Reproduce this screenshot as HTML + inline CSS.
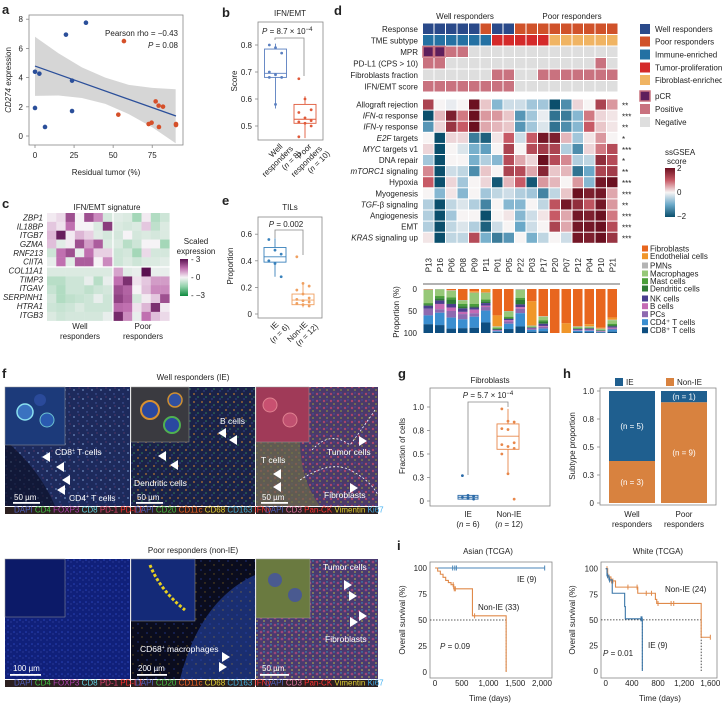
<!DOCTYPE html>
<html><head><meta charset="utf-8"><style>
html,body{margin:0;padding:0;background:#fff}
svg{display:block;font-family:"Liberation Sans",Arial,sans-serif;fill:#222}
text{font-size:8px}
.pl{font-weight:bold;font-size:13px}
.ax{stroke:#888;stroke-width:0.8;fill:none}
.wt{fill:#fff;font-size:8.5px}
</style></head><body>
<svg id="fig" width="722" height="705" viewBox="0 0 722 705" xmlns="http://www.w3.org/2000/svg">
<defs>
<pattern id="dots1" width="9" height="9" patternUnits="userSpaceOnUse"><circle cx="2" cy="3" r="0.9" fill="#8fb4e8"/><circle cx="6" cy="7" r="0.7" fill="#5c78c8"/><circle cx="7" cy="1" r="0.5" fill="#d85a7a"/></pattern>
<pattern id="dots2" width="8" height="8" patternUnits="userSpaceOnUse"><circle cx="2" cy="2" r="0.9" fill="#e0902a"/><circle cx="6" cy="5" r="0.8" fill="#3e9e5a"/><circle cx="4" cy="7" r="0.6" fill="#4a6ad0"/></pattern>
<pattern id="dots3" width="7" height="7" patternUnits="userSpaceOnUse"><circle cx="2" cy="2" r="1.2" fill="#c04868"/><circle cx="5" cy="5" r="1" fill="#8a8a40"/><circle cx="5" cy="1" r="0.6" fill="#4a5ad0"/></pattern>
<pattern id="dots4" width="6" height="6" patternUnits="userSpaceOnUse"><circle cx="2" cy="2" r="0.8" fill="#3a5ae0"/><circle cx="5" cy="4" r="0.5" fill="#7a8af0"/></pattern>
<pattern id="dots5" width="9" height="9" patternUnits="userSpaceOnUse"><circle cx="3" cy="3" r="0.9" fill="#2a4ab8"/><circle cx="7" cy="7" r="0.7" fill="#c89a20"/></pattern>
<pattern id="dots6" width="7" height="7" patternUnits="userSpaceOnUse"><circle cx="2" cy="2" r="1.3" fill="#b04a78"/><circle cx="5" cy="5" r="1" fill="#a0a050"/><circle cx="5" cy="1" r="0.7" fill="#30b8d8"/></pattern>
</defs>

<text class="pl" x="2" y="14">a</text>
<text class="pl" x="222" y="17">b</text>
<text class="pl" x="2" y="208">c</text>
<text class="pl" x="334" y="15">d</text>
<text class="pl" x="222" y="205">e</text>
<text class="pl" x="2" y="378">f</text>
<text class="pl" x="398" y="378">g</text>
<text class="pl" x="563" y="378">h</text>
<text class="pl" x="397" y="550">i</text>

<g id="pa">
<rect x="29" y="15" width="154" height="130" class="ax"/>
<text x="178" y="36" text-anchor="end" font-size="9">Pearson rho = −0.43</text>
<text x="178" y="48" text-anchor="end" font-size="9"><tspan font-style="italic">P</tspan> = 0.08</text>
<text x="106" y="175" text-anchor="middle" font-size="9">Residual tumor (%)</text>
<text transform="translate(11,80) rotate(-90)" text-anchor="middle" font-size="9"><tspan font-style="italic">CD274</tspan> expression</text>
</g>

<g>
<text x="290" y="16" text-anchor="middle">IFN/EMT</text>
<rect x="258" y="22" width="65" height="118" class="ax"/>
<text x="262" y="34" font-size="8"><tspan font-style="italic">P</tspan> = 8.7 × 10<tspan dy="-3" font-size="6">−4</tspan></text>
<path d="M275,40 V38 H304 V76" class="ax"/>
<text transform="translate(237,81) rotate(-90)" text-anchor="middle" font-size="9">Score</text>
<g transform="translate(283,147) rotate(-45)" font-size="8"><text x="0" y="0" text-anchor="end">Well</text><text x="6" y="9" text-anchor="end">responders</text><text x="8" y="18" text-anchor="end">(<tspan font-style="italic">n</tspan> = 8)</text></g>
<g transform="translate(312,147) rotate(-45)" font-size="8"><text x="0" y="0" text-anchor="end">Poor</text><text x="6" y="9" text-anchor="end">responders</text><text x="8" y="18" text-anchor="end">(<tspan font-style="italic">n</tspan> = 10)</text></g>
</g>

<g>
<text x="290" y="210" text-anchor="middle">TILs</text>
<rect x="258" y="217" width="64" height="101" class="ax"/>
<text x="286" y="227" text-anchor="middle"><tspan font-style="italic">P</tspan> = 0.002</text>
<path d="M275,238 V230 H303 V255" class="ax"/>
<text transform="translate(233,266) rotate(-90)" text-anchor="middle" font-size="9">Proportion</text>
<g transform="translate(279,325) rotate(-45)" font-size="8"><text x="0" y="0" text-anchor="end">IE</text><text x="6" y="9" text-anchor="end">(<tspan font-style="italic">n</tspan> = 6)</text></g>
<g transform="translate(308,325) rotate(-45)" font-size="8"><text x="0" y="0" text-anchor="end">Non-IE</text><text x="6" y="9" text-anchor="end">(<tspan font-style="italic">n</tspan> = 12)</text></g>
</g>

<g>
<text x="107" y="210" text-anchor="middle" font-size="9">IFN/EMT signature</text>
<text x="80" y="329" text-anchor="middle">Well</text>
<text x="80" y="339" text-anchor="middle">responders</text>
<text x="143" y="329" text-anchor="middle">Poor</text>
<text x="143" y="339" text-anchor="middle">responders</text>
<text x="196" y="244" text-anchor="middle" font-size="7.5">Scaled</text>
<text x="196" y="254" text-anchor="middle" font-size="7.5">expression</text>
<defs><linearGradient id="gc" x1="0" y1="0" x2="0" y2="1"><stop offset="0" stop-color="#5a1050"/><stop offset="0.25" stop-color="#c070b0"/><stop offset="0.5" stop-color="#f6f3f6"/><stop offset="0.75" stop-color="#8fd0a8"/><stop offset="1" stop-color="#0e8a3e"/></linearGradient></defs>
<rect x="180" y="259" width="8" height="37" fill="url(#gc)"/>
<text x="191" y="262" font-size="7">- 3</text>
<text x="191" y="280" font-size="7">- 0</text>
<text x="191" y="298" font-size="7">- −3</text>
</g>

<g>
<text x="465" y="19" text-anchor="middle" font-size="9">Well responders</text>
<text x="572" y="19" text-anchor="middle" font-size="9">Poor responders</text>
<line x1="423" y1="284" x2="620" y2="284" stroke="#333" stroke-width="0.8"/>
<text transform="translate(399,312) rotate(-90)" text-anchor="middle" font-size="8">Proportion (%)</text>
<text x="665" y="155" font-size="7">ssGSEA</text>
<text x="667" y="164" font-size="7">score</text>
<defs><linearGradient id="gd" x1="0" y1="0" x2="0" y2="1"><stop offset="0" stop-color="#6b1020"/><stop offset="0.25" stop-color="#c75a66"/><stop offset="0.5" stop-color="#f7f4f4"/><stop offset="0.75" stop-color="#6aa8c8"/><stop offset="1" stop-color="#0b4f6c"/></linearGradient></defs>
<rect x="665" y="168" width="10" height="49" fill="url(#gd)"/>
<text x="677" y="171" font-size="7">2</text>
<text x="677" y="195" font-size="7">0</text>
<text x="677" y="219" font-size="7">−2</text>
</g>

<g>
<text x="193" y="380" text-anchor="middle" font-size="9">Well responders (IE)</text>
<text x="193" y="553" text-anchor="middle" font-size="9">Poor responders (non-IE)</text>
<g><rect x="5" y="387" width="125" height="119" fill="#1d2a5c"/><rect x="5" y="387" width="125" height="119" fill="url(#dots1)" opacity="0.7"/><path d="M5,440 Q40,470 55,506 L5,506Z" fill="#0a0e20" opacity="0.6"/><rect x="5" y="387" width="60" height="58" fill="#1c3a7a" stroke="#999" stroke-width="0.5"/><circle cx="25" cy="412" r="8" fill="#3a72c0" stroke="#8ae0f0" stroke-width="1.5"/><circle cx="47" cy="420" r="7" fill="#2a5ab0" stroke="#6ac0d0" stroke-width="1"/><circle cx="40" cy="400" r="6" fill="#2a4a9a"/></g>
<g><rect x="131" y="387" width="124" height="119" fill="#1a2248"/><rect x="131" y="387" width="124" height="119" fill="url(#dots2)" opacity="0.8"/><rect x="131" y="387" width="58" height="55" fill="#3a3a40" stroke="#999" stroke-width="0.5"/><circle cx="150" cy="410" r="9" fill="#2a48a0" stroke="#d89030" stroke-width="2"/><circle cx="172" cy="425" r="8" fill="#2a48a0" stroke="#50b050" stroke-width="2"/><circle cx="175" cy="400" r="7" fill="#3050a0" stroke="#d09030" stroke-width="1.5"/></g>
<g><rect x="256" y="387" width="122" height="119" fill="#4a3a6a"/><rect x="256" y="387" width="122" height="119" fill="url(#dots3)" opacity="0.8"/><path d="M256,440 L300,440 Q300,480 320,506 L256,506Z" fill="#6a6a48" opacity="0.7"/><rect x="256" y="387" width="53" height="55" fill="#a03a58" stroke="#999" stroke-width="0.5"/><circle cx="270" cy="405" r="7" fill="#c85070" stroke="#e08090"/><circle cx="290" cy="420" r="7" fill="#c05070" stroke="#e08090"/><path d="M312,450 Q330,430 350,445 Q365,425 375,410" stroke="#fff" stroke-dasharray="2,2" fill="none" stroke-width="0.8"/><path d="M300,480 Q330,460 350,470 Q370,480 378,495" stroke="#fff" stroke-dasharray="2,2" fill="none" stroke-width="0.8"/></g>
<g><rect x="5" y="559" width="125" height="120" fill="#10207a"/><rect x="5" y="559" width="125" height="120" fill="url(#dots4)" opacity="0.6"/><rect x="5" y="559" width="60" height="58" fill="#0c1a68" stroke="#999" stroke-width="0.5"/></g>
<g><rect x="131" y="559" width="124" height="120" fill="#0a0c1e"/><path d="M180,679 Q200,600 255,575 L255,679Z" fill="#1a2e70"/><rect x="131" y="559" width="124" height="120" fill="url(#dots5)" opacity="0.5"/><rect x="131" y="559" width="64" height="62" fill="#142a78" stroke="#999" stroke-width="0.5"/><path d="M150,565 Q160,590 185,610" stroke="#e8d020" stroke-width="3" fill="none" stroke-dasharray="3,2"/></g>
<g><rect x="256" y="559" width="122" height="120" fill="#4a3a70"/><rect x="256" y="559" width="122" height="120" fill="url(#dots6)" opacity="0.8"/><rect x="256" y="559" width="54" height="59" fill="#6a7a40" stroke="#999" stroke-width="0.5"/><circle cx="275" cy="580" r="7" fill="#4a5a90"/><circle cx="295" cy="595" r="7" fill="#4a5a90"/></g>
<g font-size="5.5">
<rect x="5" y="507" width="125" height="7" fill="#2c2020"/><rect x="131" y="507" width="124" height="7" fill="#2c2020"/><rect x="256" y="507" width="122" height="7" fill="#2c2020"/>
<rect x="5" y="680" width="125" height="7" fill="#2c2020"/><rect x="131" y="680" width="124" height="7" fill="#2c2020"/><rect x="256" y="680" width="122" height="7" fill="#2c2020"/>
<text x="14" y="512.5"><tspan fill="#5060c0">DAPI </tspan><tspan fill="#40c040">CD4 </tspan><tspan fill="#b040b0">FOXP3 </tspan><tspan fill="#60d0e0">CD8 </tspan><tspan fill="#e04070">PD-1 </tspan><tspan fill="#ff3030">PD-L1</tspan></text>
<text x="135" y="512.5"><tspan fill="#5060c0">DAPI </tspan><tspan fill="#40c040">CD20 </tspan><tspan fill="#f06020">CD11c </tspan><tspan fill="#e0d030">CD68 </tspan><tspan fill="#40b0e0">CD163 </tspan><tspan fill="#ff3030">IFNγ</tspan></text>
<text x="265" y="512.5"><tspan fill="#5060c0">DAPI </tspan><tspan fill="#e070a0">CD3 </tspan><tspan fill="#ff3030">Pan-CK </tspan><tspan fill="#e0d030">Vimentin </tspan><tspan fill="#40b0f0">Ki67</tspan></text>
<text x="14" y="685.5"><tspan fill="#5060c0">DAPI </tspan><tspan fill="#40c040">CD4 </tspan><tspan fill="#b040b0">FOXP3 </tspan><tspan fill="#60d0e0">CD8 </tspan><tspan fill="#e04070">PD-1 </tspan><tspan fill="#ff3030">PD-L1</tspan></text>
<text x="135" y="685.5"><tspan fill="#5060c0">DAPI </tspan><tspan fill="#40c040">CD20 </tspan><tspan fill="#f06020">CD11c </tspan><tspan fill="#e0d030">CD68 </tspan><tspan fill="#40b0e0">CD163 </tspan><tspan fill="#ff3030">IFNγ</tspan></text>
<text x="265" y="685.5"><tspan fill="#5060c0">DAPI </tspan><tspan fill="#e070a0">CD3 </tspan><tspan fill="#ff3030">Pan-CK </tspan><tspan fill="#e0d030">Vimentin </tspan><tspan fill="#40b0f0">Ki67</tspan></text>
</g>
<g>
<text class="wt" x="55" y="455">CD8<tspan dy="-3" font-size="5">+</tspan><tspan dy="3"> T cells</tspan></text>
<text class="wt" x="69" y="501">CD4<tspan dy="-3" font-size="5">+</tspan><tspan dy="3"> T cells</tspan></text>
<text class="wt" x="220" y="424">B cells</text>
<text class="wt" x="134" y="486">Dendritic cells</text>
<text class="wt" x="261" y="463">T cells</text>
<text class="wt" x="327" y="455">Tumor cells</text>
<text class="wt" x="324" y="498">Fibroblasts</text>
<text class="wt" x="323" y="570">Tumor cells</text>
<text class="wt" x="325" y="642">Fibroblasts</text>
<text class="wt" x="140" y="652">CD68<tspan dy="-3" font-size="5">+</tspan><tspan dy="3"> macrophages</tspan></text>
<g fill="#fff"><path d="M42,457 l8,-5 v10z"/><path d="M56,467 l8,-5 v10z"/><path d="M62,480 l8,-5 v10z"/><path d="M57,490 l8,-5 v10z"/><path d="M218,433 l8,-5 v10z"/><path d="M229,440 l8,-5 v10z"/><path d="M158,456 l8,-5 v10z"/><path d="M170,465 l8,-5 v10z"/><path d="M273,474 l8,-5 v10z"/><path d="M273,487 l8,-5 v10z"/><path d="M367,441 l-8,-5 v10z"/><path d="M358,488 l-8,-5 v10z"/><path d="M352,585 l-8,-5 v10z"/><path d="M357,596 l-8,-5 v10z"/><path d="M367,616 l-8,-5 v10z"/><path d="M358,622 l-8,-5 v10z"/><path d="M230,657 l-8,-5 v10z"/><path d="M227,667 l-8,-5 v10z"/></g>
<g fill="#fff" font-size="7.5"><text x="14" y="500">50 µm</text><rect x="13" y="502" width="27" height="1.8"/><text x="137" y="500">50 µm</text><rect x="136" y="502" width="27" height="1.8"/><text x="262" y="500">50 µm</text><rect x="261" y="502" width="27" height="1.8"/>
<text x="13" y="671">100 µm</text><rect x="10" y="674" width="31" height="1.8"/><text x="138" y="671">200 µm</text><rect x="137" y="674" width="30" height="1.8"/><text x="262" y="671">50 µm</text><rect x="260" y="674" width="29" height="1.8"/></g>
</g>
</g>

<g>
<text x="490" y="383" text-anchor="middle">Fibroblasts</text>
<rect x="430" y="388" width="120" height="118" class="ax"/>
<text x="488" y="398" text-anchor="middle"><tspan font-style="italic">P</tspan> = 5.7 × 10<tspan dy="-3" font-size="6">−4</tspan></text>
<path d="M468,475 V402 H508 V407" class="ax"/>
<text transform="translate(405,446) rotate(-90)" text-anchor="middle" font-size="9">Fraction of cells</text>
<text x="468" y="517" text-anchor="middle">IE</text>
<text x="468" y="527" text-anchor="middle">(<tspan font-style="italic">n</tspan> = 6)</text>
<text x="509" y="517" text-anchor="middle">Non-IE</text>
<text x="509" y="527" text-anchor="middle">(<tspan font-style="italic">n</tspan> = 12)</text>
<text x="488" y="554" text-anchor="middle">Asian (TCGA)</text>
</g>

<g>
<rect x="600" y="388" width="116" height="117" class="ax"/>
<rect x="615" y="378" width="8" height="8" fill="#1f5f8f"/>
<text x="626" y="385">IE</text>
<rect x="666" y="378" width="8" height="8" fill="#d8823f"/>
<text x="677" y="385">Non-IE</text>
<text transform="translate(575,446) rotate(-90)" text-anchor="middle" font-size="8.5">Subtype proportion</text>
<text x="632" y="517" text-anchor="middle">Well</text>
<text x="632" y="527" text-anchor="middle">responders</text>
<text x="684" y="517" text-anchor="middle">Poor</text>
<text x="684" y="527" text-anchor="middle">responders</text>
<text x="658" y="554" text-anchor="middle">White (TCGA)</text>
</g>

<g>
<rect x="430" y="562" width="122" height="116" class="ax"/>
<rect x="601" y="562" width="116" height="116" class="ax"/>
<text transform="translate(405,620) rotate(-90)" text-anchor="middle" font-size="8.5">Overall survival (%)</text>
<text transform="translate(575,620) rotate(-90)" text-anchor="middle" font-size="8.5">Overall survival (%)</text>
<text x="490" y="701" text-anchor="middle" font-size="8.5">Time (days)</text>
<text x="660" y="701" text-anchor="middle" font-size="8.5">Time (days)</text>
<text x="517" y="582">IE (9)</text>
<text x="478" y="610">Non-IE (33)</text>
<text x="440" y="649"><tspan font-style="italic">P</tspan> = 0.09</text>
<text x="665" y="592">Non-IE (24)</text>
<text x="648" y="648">IE (9)</text>
<text x="603" y="656"><tspan font-style="italic">P</tspan> = 0.01</text>
</g>
</svg>
<script>
const NS='http://www.w3.org/2000/svg';
const svg=document.getElementById('fig');
function mk(tag,a,p){const e=document.createElementNS(NS,tag);for(const k in a)e.setAttribute(k,a[k]);(p||svg).appendChild(e);return e;}
function tx(x,y,s,a,p){const e=mk('text',Object.assign({x:x,y:y},a||{}),p);e.textContent=s;return e;}
function lerpColor(stops,v){if(v<=stops[0][0])return stops[0][1];for(let i=1;i<stops.length;i++){if(v<=stops[i][0]){const t=(v-stops[i-1][0])/(stops[i][0]-stops[i-1][0]);const a=stops[i-1][1],b=stops[i][1];const c=[0,1,2].map(k=>Math.round(parseInt(a.substr(1+2*k,2),16)*(1-t)+parseInt(b.substr(1+2*k,2),16)*t));return 'rgb('+c.join(',')+')';}}return stops[stops.length-1][1];}

/* ---------- Panel a data ---------- */
const aBlueX=[0,2.8,0,6.4,19.8,23.7,23.7,32.6];
const aBlueY=[4.4,4.27,1.92,0.62,6.94,3.79,1.71,7.76];
const aRedX=[56.9,53.3,77.2,79.1,81.9,72.7,74.6,79.3,90.2,90.2];
const aRedY=[6.5,1.46,2.37,2.08,2.01,0.82,0.91,0.62,0.82,0.75];
const aFitX=[0,90.2];
const aFitY=[4.79,1.37];
const aBandX=[0,15,30,45,60,75,90];
const aBandLo=[2.75,2.77,2.6,2.2,1.5,0.6,-0.5];
const aBandHi=[6.8,5.67,4.7,4.0,3.5,3.3,3.2];
const aXTicks=[0,25,50,75];
const aYTicks=[0,2,4,6,8];
{
const ax=v=>35+1.563*v, ay=v=>136-14.6*v;
const g=mk('g',{});


const cp=mk('clipPath',{id:'clipa'},g);mk('rect',{x:29,y:15,width:154,height:130},cp);
let d='M'+aBandX.map((x,i)=>ax(x)+','+ay(aBandHi[i])).join(' L');
d+=' L'+aBandX.slice().reverse().map((x,i)=>ax(x)+','+ay(aBandLo[aBandX.length-1-i])).join(' L')+'Z';
const band=mk('path',{d:d,fill:'#d6d6d6','clip-path':'url(#clipa)'},g);


const ln=mk('line',{x1:ax(aFitX[0]),y1:ay(aFitY[0]),x2:ax(aFitX[1]),y2:ay(aFitY[1]),stroke:'#2b4f9a','stroke-width':1.3},g);


aBlueX.forEach((x,i)=>{const c=mk('circle',{cx:ax(x),cy:ay(aBlueY[i]),r:2.3,fill:'#2b4f9a'},g);

});
aRedX.forEach((x,i)=>{const c=mk('circle',{cx:ax(x),cy:ay(aRedY[i]),r:2.3,fill:'#d5502a'},g);

});
aXTicks.forEach(v=>{mk('line',{x1:ax(v),x2:ax(v),y1:145,y2:148,class:'ax'},g);const t=tx(ax(v),158,String(v),{'text-anchor':'middle'},g);

});
aYTicks.forEach(v=>{mk('line',{x1:26,x2:29,y1:ay(v),y2:ay(v),class:'ax'},g);const t=tx(23,ay(v)+3,String(v),{'text-anchor':'end'},g);

});
}

/* ---------- Box plot helper ---------- */
function boxplot(g,cx,w,st,pts,color,fill,ys,name){
const q1=st[0],med=st[1],q3=st[2],lo=st[3],hi=st[4];
const b=mk('g',{},g);


mk('line',{x1:cx,x2:cx,y1:ys(hi),y2:ys(q3),stroke:color,'stroke-width':0.9},b);
mk('line',{x1:cx,x2:cx,y1:ys(q1),y2:ys(lo),stroke:color,'stroke-width':0.9},b);
mk('rect',{x:cx-w/2,y:ys(q3),width:w,height:Math.max(0.5,ys(q1)-ys(q3)),fill:fill,stroke:color,'stroke-width':0.9},b);
mk('line',{x1:cx-w/2,x2:cx+w/2,y1:ys(med),y2:ys(med),stroke:color,'stroke-width':0.9},b);
pts.forEach((p,i)=>{const c=mk('circle',{cx:cx+((i%3)-1)*w*0.28,cy:ys(p),r:1.4,fill:color},b);

});
}

/* ---------- Panel b data ---------- */
const bWell=[0.80,0.79,0.77,0.70,0.69,0.68,0.68,0.58];
const bWellStats=[0.68,0.695,0.785,0.565,0.805];
const bPoor=[0.675,0.60,0.56,0.55,0.53,0.52,0.515,0.51,0.50,0.46];
const bPoorStats=[0.51,0.525,0.58,0.455,0.61];
const bYTicks=[0.5,0.6,0.7,0.8];
{
const ys=v=>45+(0.8-v)*270;
const g=mk('g',{});


boxplot(g,275.5,22,bWellStats,bWell,'#5a7fc0','#fff',ys,'box-well-b');
boxplot(g,305,22,bPoorStats,bPoor,'#e05a3a','#fff',ys,'box-poor-b');
bYTicks.forEach(v=>{mk('line',{x1:255,x2:258,y1:ys(v),y2:ys(v),class:'ax'},g);const t=tx(252,ys(v)+3,v.toFixed(1),{'text-anchor':'end'},g);

});
}

/* ---------- Panel e data ---------- */
const eIE=[0.56,0.48,0.45,0.40,0.38,0.28];
const eIEStats=[0.39,0.43,0.50,0.28,0.57];
const eNon=[0.43,0.23,0.21,0.18,0.15,0.12,0.11,0.10,0.09,0.08,0.07,0.06];
const eNonStats=[0.07,0.105,0.15,0.05,0.23];
const eYTicks=[0,0.2,0.4,0.6];
{
const ys=v=>314-133*v;
const g=mk('g',{});


boxplot(g,275,22,eIEStats,eIE,'#3a82bc','#fff',ys,'box-ie-e');
boxplot(g,303,22,eNonStats,eNon,'#f0a060','#fff',ys,'box-nonie-e');
eYTicks.forEach(v=>{mk('line',{x1:255,x2:258,y1:ys(v),y2:ys(v),class:'ax'},g);const t=tx(252,ys(v)+3,v===0?'0':v.toFixed(1),{'text-anchor':'end'},g);

});
}

/* ---------- Panel g data ---------- */
const gIE=[0.27,0.06,0.05,0.04,0.03,0.02];
const gIEStats=[0.02,0.04,0.06,0.01,0.07];
const gNon=[0.98,0.85,0.84,0.77,0.76,0.62,0.60,0.58,0.56,0.50,0.29,0.02];
const gNonStats=[0.55,0.69,0.82,0.29,0.98];
const gYTicks=[0,0.25,0.5,0.75,1.0];
const gYLabels=['0','0.3','0.5','0.8','1.0'];
{
const ys=v=>501-94*v;
const g=mk('g',{});


boxplot(g,468,20,gIEStats,gIE,'#2a6aa8','#fff',ys,'box-ie-g');
boxplot(g,508,22,gNonStats,gNon,'#e8874a','#fff',ys,'box-nonie-g');
gYTicks.forEach((v,i)=>{mk('line',{x1:427,x2:430,y1:ys(v),y2:ys(v),class:'ax'},g);const t=tx(424,ys(v)+3,gYLabels[i],{'text-anchor':'end'},g);

});
}

/* ---------- Panel h data ---------- */
const hGroups=['Well responders','Poor responders'];
const hIE=[5,1];
const hNonIE=[3,9];
const hYTicks=[0,0.25,0.5,0.75,1.0];
const hYLabels=['0','0.3','0.5','0.8','1.0'];
{
const ys=v=>503-112*v;
const xs=[609,661], w=46;
const g=mk('g',{});


hGroups.forEach((nm,i)=>{
const tot=hIE[i]+hNonIE[i], pn=hNonIE[i]/tot;
const r1=mk('rect',{x:xs[i],y:ys(pn),width:w,height:ys(0)-ys(pn),fill:'#d8823f'},g);


const r2=mk('rect',{x:xs[i],y:ys(1),width:w,height:ys(pn)-ys(1),fill:'#1f5f8f'},g);


const t1=tx(xs[i]+w/2,(ys(pn)+ys(0))/2+3,'(n = '+hNonIE[i]+')',{'text-anchor':'middle',fill:'#fff'},g);


const t2=tx(xs[i]+w/2,(ys(pn)+ys(1))/2+3,'(n = '+hIE[i]+')',{'text-anchor':'middle',fill:'#fff'},g);


});
hYTicks.forEach((v,i)=>{mk('line',{x1:597,x2:600,y1:ys(v),y2:ys(v),class:'ax'},g);const t=tx(594,ys(v)+3,hYLabels[i],{'text-anchor':'end'},g);

});
}

/* ---------- Panel c data ---------- */
const cGenes=['ZBP1','IL18BP','ITGB7','GZMA','RNF213','CIITA','COL11A1','TIMP3','ITGAV','SERPINH1','HTRA1','ITGB3'];
const cVals=[
[0.1,0.3,2,0,2,1.2,-0.5,-0.3,-0.4,-1.2,0.1,-1,-0.6],
[0.5,0.2,1.5,0,0,-0.4,2.3,-0.4,-0.5,-0.4,0.5,-0.8,-0.4],
[0.7,2.8,0.1,0.7,0.4,-0.3,-0.5,-0.5,0,-0.5,-0.4,-0.5,-0.4],
[0.6,-0.3,0.1,2,1,1.8,-0.4,-0.4,-0.9,-0.6,0,0,-1.2],
[-0.6,1.5,2,-0.2,1.5,0.4,0.4,-0.6,-0.5,-1.2,0.3,-0.5,-0.5],
[-0.2,1.5,-0.3,1.8,1.8,0,1.2,-0.6,-0.4,-0.6,-0.4,-0.4,-0.3],
[-0.4,-0.4,-0.4,-0.4,-0.4,-0.4,-0.4,0.9,-0.3,-0.2,3,-0.2,-0.2],
[-0.9,-0.9,-0.6,-0.6,-0.2,-0.9,-0.2,1.5,2.5,0.2,0.5,1,1],
[-0.7,-1,-0.6,-0.6,-0.8,-0.6,-0.5,2,1.7,0,0.6,1.2,1.2],
[-0.5,-1,-0.8,-0.7,-0.6,-0.2,-0.6,2.2,1.8,-0.5,0.1,0.5,2],
[-0.6,-0.7,-0.6,-0.4,-0.6,-0.6,-0.6,1.6,1.5,0.2,0.7,2.5,0.1],
[-0.4,-0.6,-0.5,-0.5,-0.5,-0.5,-0.2,2.6,1.2,-0.2,1.5,0.6,0.3]];
const cNWell=7;
{
const stops=[[-3,'#0e8a3e'],[-1.5,'#8fd0a8'],[0,'#f6f3f6'],[1.5,'#c070b0'],[3,'#5a1050']];
const x0=47,y0=213,cw=9.3,ch=8.85;
const g=mk('g',{});


cVals.forEach((row,r)=>{
const t=tx(43,y0+r*ch+ch/2+3,cGenes[r],{'text-anchor':'end','font-style':'italic','font-size':'8'},g);


row.forEach((v,c)=>{const x=x0+c*cw+(c>=cNWell?1.5:0), y=y0+r*ch+(r>=6?1.5:0);
const rc=mk('rect',{x:x,y:y,width:cw+0.2,height:ch+0.2,fill:lerpColor(stops,v)},g);

});
});
}

/* ---------- Panel d data ---------- */
const dPatients=['P13','P16','P06','P08','P09','P11','P01','P05','P22','P03','P17','P20','P07','P12','P04','P10','P21'];
const dAnnoNames=['Response','TME subtype','MPR','PD-L1 (CPS > 10)','Fibroblasts fraction','IFN/EMT score'];
const dResponse=['W','W','W','W','W','P','W','W','P','P','P','P','P','P','P','P','P'];
const dTME=['I','I','I','I','I','I','T','T','T','T','T','F','F','F','F','F','F'];
const dMPR=['C','C','+','+','-','-','-','-','-','-','-','-','-','-','-','-','-'];
const dPDL1=['+','+','-','-','-','-','-','-','-','-','-','-','-','-','-','+','-'];
const dFib=['-','-','-','-','-','-','+','+','-','-','+','+','+','+','+','+','+'];
const dIFN=['+','+','+','+','+','+','+','+','-','-','-','-','-','-','-','-','-'];
const dPathways=['Allograft rejection','IFN-α response','IFN-γ response','E2F targets','MYC targets v1','DNA repair','mTORC1 signaling','Hypoxia','Myogenesis','TGF-β signaling','Angiogenesis','EMT','KRAS signaling up'];
const dStars=['**','***','**','*','***','*','**','***','***','**','***','***','***'];
const dScores=[
[1.3,0,-0.1,0,2,0.3,-0.8,-0.3,-0.3,-0.6,-0.6,-2,-1.3,0.2,0,1.3,0.6],
[-2,0.4,1.8,0.8,2,0.6,0.6,0.3,-1.2,-0.6,-0.1,-1.6,-1.5,-0.8,0.8,0.2,0.1],
[-1.2,0.2,1.5,1,2,0.5,0.4,0.3,-1.2,-0.6,-0.2,-1.6,-1.3,-0.8,1,0.3,0.1],
[0,-2,0.2,0.2,-1.5,-1.8,0.1,1,-0.3,1,1.9,1.8,0.4,-0.6,0.1,0.6,0],
[0.2,-2,0,-0.2,-0.9,-1.1,0,1.3,0,1.2,1.4,1.3,-0.5,-1.3,0.2,0.8,1.2],
[-0.6,-2,0,0,-0.9,-0.5,-0.8,1.2,0.5,0.2,2,1.2,0.7,-0.5,-0.4,1.6,1.2],
[0.7,-2,-0.3,-0.4,-1.3,0.3,0,1.3,1.2,0.5,1.7,0.3,0.4,-1.6,-1,1.3,1.4],
[1,-2,0.2,-0.6,0,0.2,-1.9,0.4,1,-1.9,0.6,0.4,0,0.6,-0.8,1.9,2],
[0,-0.8,0.1,-0.8,0,-0.6,-0.4,-0.3,-0.5,-0.6,-1.4,-0.4,0.3,2,1.8,1.9,0.5],
[-0.5,-2,-0.4,-0.2,-0.5,-1.4,0,-0.8,-0.8,0,-0.4,1.1,1.9,1.6,1.1,1.9,0.6],
[-0.5,-2,-0.6,0,0,-2,0,0.1,-0.8,-0.3,0.1,1,0.5,1.9,1.8,2,0.8],
[-0.5,-2,-0.4,-0.2,-0.5,-1.8,-0.3,0,-1,-0.3,0,1.3,0.5,1.9,1.9,2.2,1.2],
[0.1,-2,-0.4,-0.4,1.2,-0.9,-1.5,-1.2,0,-0.9,-0.4,0,-0.3,1.9,1.8,2.2,1.5]];
const dCellTypes=['Fibroblasts','Endothelial cells','PMNs','Macrophages','Mast cells','Dendritic cells','NK cells','B cells','PCs','CD4⁺ T cells','CD8⁺ T cells'];
const dFibro=[1,0,3,25,5,0,60,50,0,28,62,100,78,85,80,88,65];
const dEndo=[0,0,0,0,3,8,25,0,0,55,0,0,22,0,5,2,5];
const dPMN=[1,1,1,1,1,1,1,1,2,1,1,0,0,1,1,1,1];
const dMac=[30,15,15,8,25,15,3,12,18,2,8,0,0,3,2,2,8];
const dMast=[3,5,5,5,5,4,2,3,5,1,3,0,0,1,1,1,3];
const dDC=[3,5,10,5,3,4,1,2,10,1,5,0,0,1,1,1,3];
const dNK=[7,8,8,8,5,6,2,3,6,2,5,0,0,2,2,1,3];
const dB=[0,12,8,5,8,3,1,3,4,1,2,0,0,1,2,1,2];
const dPC=[15,8,15,12,8,8,1,5,10,2,4,0,0,1,1,1,2];
const dCD4=[20,28,25,20,25,27,2,12,30,4,6,0,0,3,3,1,5];
const dCD8=[20,18,10,11,12,24,2,9,15,3,4,0,0,2,2,1,3];
const dPropTicks=[0,50,100];
{
const x0=423,cw=11.5,g=mk('g',{});


const annoCol={W:'#2a4a8a',P:'#d0522a',I:'#2471a3',T:'#d42a2a',F:'#f0b463',C:'#5e1f5c','+':'#c9727f','-':'#dedede'};
const annoRows=[dResponse,dTME,dMPR,dPDL1,dFib,dIFN];
annoRows.forEach((row,r)=>{const y=23.5+r*11.5;
const t=tx(418,y+8.5,dAnnoNames[r],{'text-anchor':'end','font-size':'9'},g);


row.forEach((v,c)=>{const rc=mk('rect',{x:x0+c*cw,y:y,width:cw-1,height:10.5,fill:annoCol[v]},g);
if(v==='C'){rc.setAttribute('stroke','#c9727f');rc.setAttribute('stroke-width','1.6');}

});});
const stops=[[-2,'#0b4f6c'],[-1,'#6aa8c8'],[0,'#f7f4f4'],[1,'#c75a66'],[2,'#6b1020']];
const italic={'IFN-α response':'IFN','IFN-γ response':'IFN','E2F targets':'E2F','MYC targets v1':'MYC','mTORC1 signaling':'mTORC1','TGF-β signaling':'TGF','KRAS signaling up':'KRAS'};
dScores.forEach((row,r)=>{const y=99.5+r*11.1;
const t=tx(418,y+8,'',{'text-anchor':'end','font-size':'9'},g);
const nm=dPathways[r];
if(italic[nm]){const a=mk('tspan',{'font-style':'italic'},t);a.textContent=italic[nm];const b=mk('tspan',{},t);b.textContent=nm.slice(italic[nm].length);}else t.textContent=nm;


row.forEach((v,c)=>{const rc=mk('rect',{x:x0+c*cw,y:y,width:cw-1,height:10.1,fill:lerpColor(stops,v)},g);

});
const s=tx(622,y+9,dStars[r],{'font-size':'8'},g);


});
dPatients.forEach((p,c)=>{const t=tx(0,0,p,{'text-anchor':'end','font-size':'8',transform:'translate('+(x0+c*cw+8.5)+',258) rotate(-90)'},g);

});
const ys=v=>289+0.44*v;
const series=[dFibro,dEndo,dPMN,dMac,dMast,dDC,dNK,dB,dPC,dCD4,dCD8];
const cols=['#e8661e','#f0962a','#b4b4b4','#96c878','#4a9e3a','#2e7a34','#4a3e8e','#c46ab4','#8e6ab0','#3a8ed0','#0e4e80'];
dPatients.forEach((p,c)=>{let acc=0;series.forEach((s,k)=>{if(s[c]>0){const rc=mk('rect',{x:x0+c*cw+0.5,y:ys(acc),width:cw-2,height:ys(acc+s[c])-ys(acc),fill:cols[k]},g);

}acc+=s[c];});});
dPropTicks.forEach(v=>{const t=tx(417,ys(v)+3,String(v),{'text-anchor':'end','font-size':'8'},g);

});
const leg=[['Well responders','#2a4a8a',29],['Poor responders','#d0522a',41.5],['Immune-enriched','#2471a3',54.5],['Tumor-proliferation','#d42a2a',67.5],['Fibroblast-enriched','#f0b463',80],['pCR','#5e1f5c',96],['Positive','#c9727f',109],['Negative','#dedede',122]];
leg.forEach(l=>{const r=mk('rect',{x:640,y:l[2]-5,width:10,height:10,fill:l[1]},g);
if(l[0]==='pCR'){r.setAttribute('stroke','#c9727f');r.setAttribute('stroke-width','1.5');}


const t=tx(655,l[2]+3,l[0],{'font-size':'8'},g);

});
const ly=[249,256.7,266,274,281.7,289,299,306.7,314.7,322.7,330.7];
dCellTypes.forEach((n,k)=>{const r=mk('rect',{x:642,y:ly[k]-3.5,width:6,height:6,fill:cols[k]},g);


const t=tx(650,ly[k]+2.5,n,{'font-size':'7'},g);

});
}

/* ---------- Panel i data ---------- */
const kmAsianIET=[0,2050];
const kmAsianIES=[100,100];
const kmAsianIECens=[330,370,400,2050];
const kmAsianNonT=[0,50,100,150,200,250,300,350,700,1330];
const kmAsianNonS=[100,97,94,91,88,86,84,80,54,0];
const kmAsianNonCens=[340,360,380,740];
const kmAsianXTicks=[0,500,1000,1500,2000];
const kmAsianXLabels=['0','500','1,000','1,500','2,000'];
const kmWhiteIET=[0,20,50,100,290,300,560];
const kmWhiteIES=[100,93,89,76,63,51,0];
const kmWhiteIECens=[30,60,540,555];
const kmWhiteNonT=[0,30,80,150,490,760,780,1460,1600];
const kmWhiteNonS=[100,92,88,82,76,70,66,33,33];
const kmWhiteNonCens=[20,50,90,110,340,480,620,700,800,1000,1040,1600];
const kmWhiteXTicks=[0,400,800,1200,1600];
const kmWhiteXLabels=['0','400','800','1,200','1,600'];
const kmYTicks=[0,25,50,75,100];
function km(name,xs,ys,T,S,C,col){
const g=mk('g',{});


let d='M'+xs(T[0])+','+ys(S[0]);for(let i=1;i<T.length;i++)d+=' H'+xs(T[i])+' V'+ys(S[i]);
mk('path',{d:d,fill:'none',stroke:col,'stroke-width':1.1},g);
C.forEach(t=>{let s=S[0];for(let i=0;i<T.length;i++)if(T[i]<=t)s=S[i];mk('line',{x1:xs(t),x2:xs(t),y1:ys(s)-2.5,y2:ys(s)+2.5,stroke:col,'stroke-width':1},g);});
return g;}
{
const xs=t=>435+t*0.0535, ys=v=>672-1.04*v;
const m=mk('path',{d:'M430,'+ys(50)+' H'+xs(1330)+' V'+ys(0),stroke:'#222','stroke-dasharray':'1.5,1.5',fill:'none','stroke-width':0.8});


km('km-curve-ie-asian',xs,ys,kmAsianIET,kmAsianIES,kmAsianIECens,'#4a86b8');
km('km-curve-nonie-asian',xs,ys,kmAsianNonT,kmAsianNonS,kmAsianNonCens,'#e08a4a');
kmAsianXTicks.forEach((v,i)=>{const t=tx(xs(v),686,kmAsianXLabels[i],{'text-anchor':'middle','font-size':'7.5'});

});
kmYTicks.forEach(v=>{const t=tx(427,ys(v)+3,String(v),{'text-anchor':'end','font-size':'7.5'});

});
}
{
const xs=t=>605.7+t*0.0654, ys=v=>671-1.023*v;
const m=mk('path',{d:'M601,'+ys(50)+' H'+xs(1460)+' V'+ys(0)+' M'+xs(560)+','+ys(50)+' V'+ys(0),stroke:'#222','stroke-dasharray':'1.5,1.5',fill:'none','stroke-width':0.8});


km('km-curve-nonie-white',xs,ys,kmWhiteNonT,kmWhiteNonS,kmWhiteNonCens,'#e08a4a');
km('km-curve-ie-white',xs,ys,kmWhiteIET,kmWhiteIES,kmWhiteIECens,'#3a76a8');
kmWhiteXTicks.forEach((v,i)=>{const t=tx(xs(v),686,kmWhiteXLabels[i],{'text-anchor':'middle','font-size':'7.5'});

});
kmYTicks.forEach(v=>{const t=tx(598,ys(v)+3,String(v),{'text-anchor':'end','font-size':'7.5'});

});
}
</script>
</body></html>
